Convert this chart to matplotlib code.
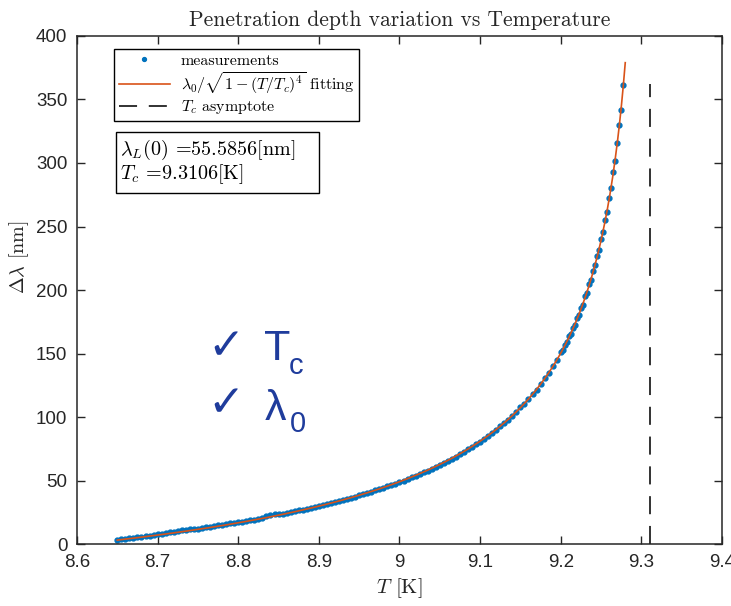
import numpy as np
import matplotlib
matplotlib.use('Agg')
import matplotlib.pyplot as plt
from matplotlib.patches import Rectangle

# fitted parameters
lambda_0 = 55.5856   # nm
T_c = 9.3106         # K
lambda_ref = 107.0   # penetration depth at the first temperature, nm

# measured penetration depth change
T_meas = [
    8.650, 8.655, 8.660, 8.665, 8.670, 8.675, 8.680, 8.685, 8.690, 8.695,
    8.700, 8.705, 8.710, 8.715, 8.720, 8.725, 8.730, 8.735, 8.740, 8.745,
    8.750, 8.755, 8.760, 8.765, 8.770, 8.775, 8.780, 8.785, 8.790, 8.795,
    8.800, 8.805, 8.810, 8.815, 8.820, 8.825, 8.830, 8.835, 8.840, 8.845,
    8.850, 8.855, 8.860, 8.865, 8.870, 8.875, 8.880, 8.885, 8.890, 8.895,
    8.900, 8.905, 8.910, 8.915, 8.920, 8.925, 8.930, 8.935, 8.940, 8.945,
    8.950, 8.955, 8.960, 8.965, 8.970, 8.975, 8.980, 8.985, 8.990, 8.995,
    9.000, 9.005, 9.010, 9.015, 9.020, 9.025, 9.030, 9.035, 9.040, 9.045,
    9.050, 9.055, 9.060, 9.065, 9.070, 9.075, 9.080, 9.085, 9.090, 9.095,
    9.100, 9.105, 9.110, 9.115, 9.120, 9.125, 9.130, 9.135, 9.140, 9.145,
    9.150, 9.155, 9.160, 9.165, 9.170, 9.175, 9.180, 9.185, 9.190, 9.195,
    9.2000, 9.2025, 9.2050, 9.2075, 9.2100, 9.2125, 9.2150, 9.2175,
    9.2200, 9.2225, 9.2250, 9.2275, 9.2300, 9.2325, 9.2350, 9.2375,
    9.2400, 9.2425, 9.2450, 9.2475, 9.2500, 9.2525, 9.2550, 9.2575,
    9.2600, 9.2625, 9.2650, 9.2675, 9.2700, 9.2725, 9.2750, 9.2775,
]
dlambda_meas = [
    3.4, 3.6, 4.1, 4.5, 4.8, 5.3, 5.8, 6.1, 6.5, 7.0,
    7.6, 8.0, 8.5, 9.2, 9.6, 10.1, 10.7, 11.1, 11.5, 12.0,
    12.2, 12.6, 13.2, 13.7, 14.1, 14.6, 15.1, 15.7, 16.2, 16.6,
    17.0, 17.5, 18.0, 18.6, 19.1, 19.7, 20.2, 22.4, 22.9, 23.3,
    23.6, 24.0, 24.6, 25.3, 25.8, 26.5, 27.1, 27.7, 28.5, 29.2,
    30.0, 30.8, 31.5, 32.3, 33.2, 34.0, 34.9, 35.7, 36.6, 37.4,
    38.5, 39.2, 40.1, 41.2, 42.2, 43.2, 44.3, 45.4, 46.5, 47.6,
    48.7, 49.9, 51.2, 52.4, 53.7, 55.0, 56.5, 57.8, 59.3, 60.8,
    62.3, 64.0, 65.5, 67.3, 68.9, 70.8, 72.6, 74.5, 76.4, 78.6,
    80.6, 82.7, 85.1, 87.4, 90.0, 92.6, 95.2, 98.0, 101.0, 104.0,
    107.6, 110.5, 114.0, 118.1, 121.5, 126.2, 130.4, 134.6, 139.8, 145.1,
    150.8, 153.0, 156.9, 159.0, 163.4, 165.5, 170.2, 172.6,
    177.8, 180.1, 186.2, 188.5, 194.9, 197.6, 204.6, 207.9,
    215.3, 219.8, 226.5, 231.4, 240.5, 245.8, 254.9, 261.6,
    272.6, 280.4, 292.8, 301.7, 316.0, 330.2, 341.8, 361.5,
]
T_fit_range = [8.65, 9.28]
asymptote_top = 362

x_ticks = [8.6, 8.7, 8.8, 8.9, 9.0, 9.1, 9.2, 9.3, 9.4]
x_tick_labels = ['8.6', '8.7', '8.8', '8.9', '9', '9.1', '9.2', '9.3', '9.4']
y_ticks = [0, 50, 100, 150, 200, 250, 300, 350, 400]

blue = '#0072BD'
orange = '#D95319'
axis_gray = '#262626'
note_blue = '#1F3C9C'

plt.rcParams['mathtext.fontset'] = 'cm'
plt.rcParams['axes.unicode_minus'] = False

fig = plt.figure(figsize=(7.31, 6.06), dpi=100)
ax = fig.add_axes([0.1053, 0.1023, 0.8824, 0.8383])

T_fit = np.linspace(T_fit_range[0], T_fit_range[1], 800)
fit = lambda_0 / np.sqrt(1 - (T_fit / T_c) ** 4) - lambda_ref

ax.plot(T_meas, dlambda_meas, '.', color=blue, markersize=7,
        label='measurements', zorder=2)
ax.plot(T_fit, fit, '-', color=orange, lw=1.2,
        label=r'$\lambda_0/\sqrt{1-(T/T_c)^4}$ fitting', zorder=3)
ax.plot([T_c, T_c], [0, asymptote_top], color='#222222', lw=1.3,
        dashes=(10, 6.5), label=r'$T_c$ asymptote', zorder=3)

ax.set_xlim(8.6, 9.4)
ax.set_ylim(0, 400)
ax.set_xticks(x_ticks)
ax.set_xticklabels(x_tick_labels)
ax.set_yticks(y_ticks)
ax.tick_params(direction='in', length=6, width=1, top=True, right=True,
               colors=axis_gray, labelsize=13.5, pad=7)
for lab in ax.get_xticklabels() + ax.get_yticklabels():
    lab.set_family('Liberation Sans')
for sp in ax.spines.values():
    sp.set_color(axis_gray)
    sp.set_linewidth(1.1)

ax.set_title('Penetration depth variation vs Temperature', family='cmr10',
             fontsize=15.5, color=axis_gray, pad=7)
ax.set_xlabel(r'$T$ [K]', family='cmr10', fontsize=15, color=axis_gray)
ax.set_ylabel(r'$\Delta\lambda$ [nm]', family='cmr10', fontsize=14.5,
              color=axis_gray)
ax.yaxis.set_label_coords(-0.071, 0.565)

leg = ax.legend(loc='upper left', bbox_to_anchor=(0.057, 0.975),
                borderaxespad=0, prop={'family': 'cmr10', 'size': 11.5},
                fancybox=False, framealpha=1, edgecolor='black',
                handlelength=3.2, handletextpad=0.7, borderpad=0.3,
                labelspacing=0.15, markerscale=0.8)
leg.get_frame().set_linewidth(1.0)

# box with the fitted parameter values
ax.add_patch(Rectangle((0.0605, 0.691), 0.3147, 0.120, transform=ax.transAxes,
                       fc='white', ec='black', lw=1.0, zorder=5))
ax.text(0.066, 0.800, '$\\lambda_L(0)$ =55.5856[nm]\n$T_c$ =9.3106[K]',
        transform=ax.transAxes, family='cmr10', fontsize=14.5, va='top',
        ha='left', color='black', linespacing=1.05, zorder=6)

# check marks for the fitted quantities
fig.text(207 / 731, 1 - 359 / 606, '\u2713', family='DejaVu Sans',
         fontsize=32, color=note_blue, fontweight='bold')
fig.text(264 / 731, 1 - 360 / 606, 'T', family='Liberation Sans',
         fontsize=31, color=note_blue)
fig.text(289 / 731, 1 - 374 / 606, 'c', family='Liberation Sans',
         fontsize=21, color=note_blue)
fig.text(207 / 731, 1 - 416 / 606, '\u2713', family='DejaVu Sans',
         fontsize=32, color=note_blue, fontweight='bold')
fig.text(265 / 731, 1 - 420 / 606, '\u03bb', family='Liberation Sans',
         fontsize=31, color=note_blue)
fig.text(290 / 731, 1 - 432 / 606, '0', family='Liberation Sans',
         fontsize=21, color=note_blue)

fig.savefig('out.png', dpi=100, facecolor='white')
